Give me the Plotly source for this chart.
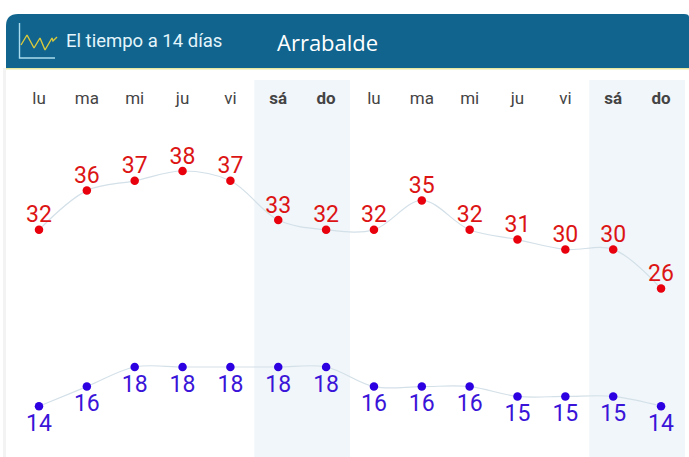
import plotly.graph_objects as go

W = 689
H = 457

days = ["lu", "ma", "mi", "ju", "vi", "<b>sá</b>", "<b>do</b>", "lu", "ma", "mi", "ju", "vi", "<b>sá</b>", "<b>do</b>"]
t_max = [32, 36, 37, 38, 37, 33, 32, 32, 35, 32, 31, 30, 30, 26]
t_min = [14, 16, 18, 18, 18, 18, 18, 16, 16, 16, 15, 15, 15, 14]
x_pos = list(range(len(days)))

weekends = [(4.5, 6.5), (11.5, 13.5)]

# chart icon in the header
icon_x = [21, 27, 34, 40, 45, 52, 53, 57]
icon_y = [45, 35, 48, 38, 50, 38, 41, 37]


def fx(px):
    return px / W


def fy(py):
    return 1 - py / H


fig = go.Figure()

for name, vals, col, txt_col, pos in [
    ("max", t_max, "#e8000c", "#dc1414", "top center"),
    ("min", t_min, "#2c00e0", "#3a14d8", "bottom center"),
]:
    fig.add_trace(go.Scatter(
        x=x_pos,
        y=vals,
        name=name,
        mode="lines+markers",
        line=dict(color="#d3e0e8", width=1.2, shape="spline", smoothing=1),
        marker=dict(color=col, size=8.5),
        cliponaxis=False,
        hoverinfo="skip",
    ))
    # labels in their own trace so the gap to the dot can differ per series
    fig.add_trace(go.Scatter(
        x=x_pos,
        y=vals,
        mode="markers+text",
        text=[str(v) for v in vals],
        textposition=pos,
        textfont=dict(family="Roboto", size=23, color=txt_col),
        marker=dict(size=1 if name == "max" else 10, opacity=0),
        cliponaxis=False,
        hoverinfo="skip",
    ))

# header icon drawn on a hidden axis in pixels
fig.add_trace(go.Scatter(
    x=icon_x, y=icon_y, xaxis="x2", yaxis="y2", mode="lines",
    line=dict(color="#d8c93c", width=1.4), hoverinfo="skip",
))
fig.add_trace(go.Scatter(
    x=[19.5, 19.5, 55], y=[23, 58, 58], xaxis="x2", yaxis="y2", mode="lines",
    line=dict(color="#a9dcef", width=1.4), hoverinfo="skip",
))

shapes = []
for x0, x1 in weekends:
    shapes.append(dict(type="rect", xref="x", yref="paper", x0=x0, x1=x1,
                       y0=0, y1=fy(80), fillcolor="#f1f6fa", line_width=0, layer="below"))

# card edge on the left
shapes.append(dict(type="rect", xref="paper", yref="paper", x0=fx(3), x1=fx(6), y0=0, y1=fy(68),
                   fillcolor="#f3f3f3", line_width=0, layer="below"))
# header band with rounded top corners
r = 12
shapes.append(dict(
    type="path", xref="paper", yref="paper", layer="below",
    path=(f"M {fx(6)} {fy(68)} L {fx(6)} {fy(14 + r)} Q {fx(6)} {fy(14)} {fx(6 + r)} {fy(14)} "
          f"L {fx(684)} {fy(14)} Q {fx(689)} {fy(14)} {fx(689)} {fy(17)} L {fx(689)} {fy(68)} Z"),
    fillcolor="#10648e", line_width=0,
))
shapes.append(dict(type="rect", xref="paper", yref="paper", x0=fx(6), x1=1, y0=fy(69.5), y1=fy(68),
                   fillcolor="#e9e8a0", line_width=0, layer="below"))

annotations = [
    dict(text="El tiempo a 14 días", x=fx(64), y=fy(41), xref="paper", yref="paper",
         xanchor="left", yanchor="middle", showarrow=False,
         font=dict(family="Roboto", size=18.5, color="#e4f5fb")),
    dict(text="Arrabalde", x=fx(275), y=fy(42), xref="paper", yref="paper",
         xanchor="left", yanchor="middle", showarrow=False,
         font=dict(family="Open Sans", size=22, color="#ffffff")),
]

fig.update_layout(
    width=W,
    height=H,
    margin=dict(l=0, r=0, t=0, b=0),
    paper_bgcolor="#ffffff",
    plot_bgcolor="rgba(0,0,0,0)",
    showlegend=False,
    shapes=shapes,
    annotations=annotations,
    xaxis=dict(
        range=[-39 / 47.85, (W - 39) / 47.85],
        domain=[0, 1],
        side="top",
        tickmode="array",
        tickvals=x_pos,
        ticktext=days,
        tickangle=0,
        tickfont=dict(family="Roboto", size=17, color="#444444"),
        ticks="outside",
        ticklen=3,
        tickcolor="rgba(0,0,0,0)",
        showgrid=False,
        zeroline=False,
        showline=False,
        fixedrange=True,
    ),
    yaxis=dict(
        range=[38 - (H - 171) / 9.8, 38 + (171 - 115) / 9.8],
        domain=[0, fy(115)],
        visible=False,
        fixedrange=True,
    ),
    xaxis2=dict(range=[0, W], domain=[0, 1], anchor="y2", visible=False, fixedrange=True),
    yaxis2=dict(range=[H, 0], domain=[0, 1], anchor="x2", visible=False, fixedrange=True),
)

fig.write_html("out.html", config={"displayModeBar": False},
               post_script="document.body.style.margin='0';document.body.style.overflow='hidden';")
